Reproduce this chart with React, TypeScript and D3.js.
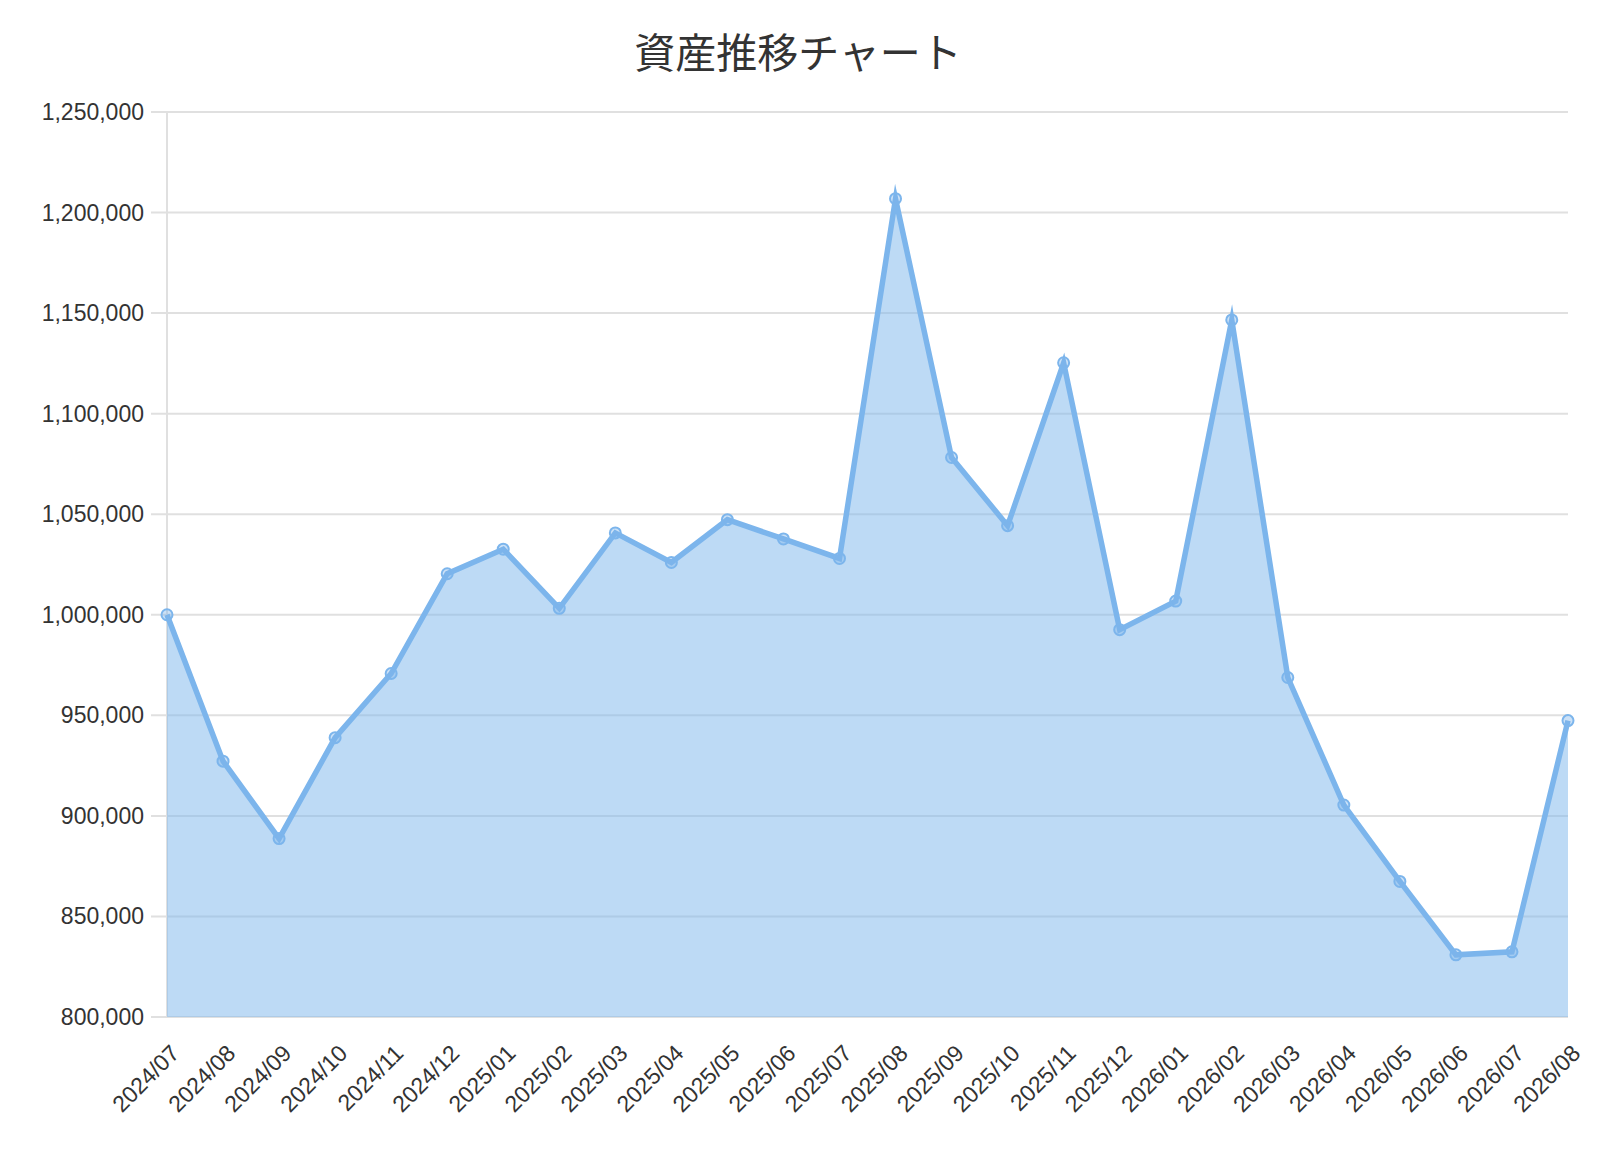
import React, { useEffect, useRef } from 'react'
import * as d3 from 'd3'

const months = [
    '2024/07', '2024/08', '2024/09', '2024/10', '2024/11', '2024/12',
    '2025/01', '2025/02', '2025/03', '2025/04', '2025/05', '2025/06',
    '2025/07', '2025/08', '2025/09', '2025/10', '2025/11', '2025/12',
    '2026/01', '2026/02', '2026/03', '2026/04', '2026/05', '2026/06',
    '2026/07', '2026/08',
]

const assets = [
    1000000, 927200, 888700, 938900, 970800, 1020400,
    1032600, 1003200, 1040700, 1026000, 1047300, 1037700,
    1028000, 1206900, 1078200, 1044300, 1125300, 992600,
    1006800, 1146600, 968800, 905400, 867400, 830900,
    832400, 947400,
]

const yTicks = [800000, 850000, 900000, 950000, 1000000, 1050000, 1100000, 1150000, 1200000, 1250000]

const W = 1600
const H = 1160
const margin = { top: 112, right: 32, bottom: 143, left: 167 }
const lineColor = '#7cb5ec'
const font = '"Liberation Sans", Arial, sans-serif'

const App = () => {
    const ref = useRef<SVGSVGElement>(null)

    useEffect(() => {
        const svg = d3.select(ref.current)
        svg.selectAll('*').remove()

        const x = d3
            .scalePoint()
            .domain(months)
            .range([margin.left, W - margin.right])

        const y = d3
            .scaleLinear()
            .domain([800000, 1250000])
            .range([H - margin.bottom, margin.top])

        // Title
        svg.append('text')
            .attr('x', 798)
            .attr('y', 68)
            .attr('text-anchor', 'middle')
            .attr('font-family', '"Noto Sans CJK JP", sans-serif')
            .attr('font-size', 41)
            .attr('fill', '#333')
            .text('資産推移チャート')

        // Grid and y axis
        const grid = svg.append('g')
        grid.selectAll('line.grid')
            .data(yTicks)
            .join('line')
            .attr('x1', margin.left - 16)
            .attr('x2', W - margin.right)
            .attr('y1', d => y(d))
            .attr('y2', d => y(d))
            .attr('stroke', '#e0e0e0')
            .attr('stroke-width', 2)

        grid.append('line')
            .attr('x1', margin.left)
            .attr('x2', margin.left)
            .attr('y1', margin.top)
            .attr('y2', H - margin.bottom)
            .attr('stroke', '#e0e0e0')
            .attr('stroke-width', 2)

        svg.append('g')
            .selectAll('text')
            .data(yTicks)
            .join('text')
            .attr('x', margin.left - 23)
            .attr('y', d => y(d))
            .attr('dy', '0.35em')
            .attr('text-anchor', 'end')
            .attr('font-family', font)
            .attr('font-size', 23)
            .attr('fill', '#333')
            .text(d => d3.format(',')(d))

        // X labels, rotated
        svg.append('g')
            .selectAll('text')
            .data(months)
            .join('text')
            .attr('transform', d => `translate(${x(d)! + 8},${H - margin.bottom + 32}) rotate(-45)`)
            .attr('text-anchor', 'end')
            .attr('dy', '0.35em')
            .attr('font-family', font)
            .attr('font-size', 23)
            .attr('fill', '#333')
            .text(d => d)

        // Area
        const area = d3
            .area<number>()
            .x((_, i) => x(months[i])!)
            .y0(y(800000))
            .y1(d => y(d))

        svg.append('path')
            .datum(assets)
            .attr('d', area)
            .attr('fill', lineColor)
            .attr('fill-opacity', 0.5)

        // Line
        const line = d3
            .line<number>()
            .x((_, i) => x(months[i])!)
            .y(d => y(d))

        svg.append('path')
            .datum(assets)
            .attr('d', line)
            .attr('fill', 'none')
            .attr('stroke', lineColor)
            .attr('stroke-width', 5.5)
            .attr('stroke-linejoin', 'miter')
            .attr('stroke-miterlimit', 10)

        // Markers
        svg.append('g')
            .selectAll('circle')
            .data(assets)
            .join('circle')
            .attr('cx', (_, i) => x(months[i])!)
            .attr('cy', d => y(d))
            .attr('r', 5.5)
            .attr('fill', lineColor)
            .attr('fill-opacity', 0.4)
            .attr('stroke', lineColor)
            .attr('stroke-width', 2)
    }, [])

    return (
        <div style={{ position: 'fixed', left: 0, top: 0, background: '#fff' }}>
            <svg ref={ref} width={W} height={H} />
        </div>
    )
}

export default App
